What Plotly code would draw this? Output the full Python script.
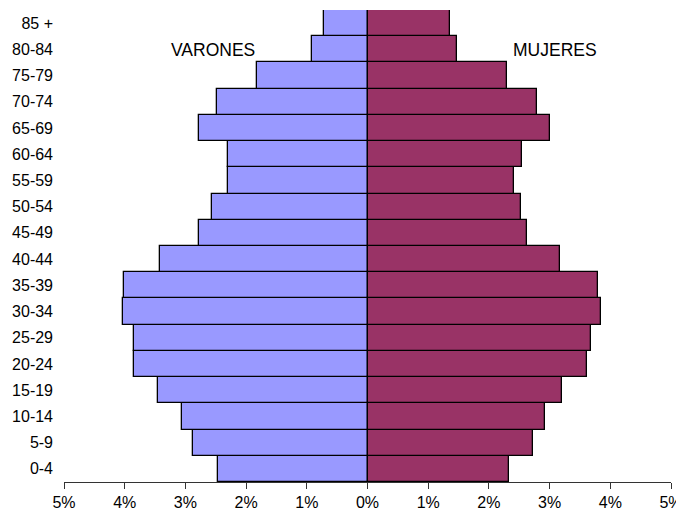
import plotly.graph_objects as go

# age groups, bottom to top
age_groups = ['0-4', '5-9', '10-14', '15-19', '20-24', '25-29', '30-34', '35-39',
              '40-44', '45-49', '50-54', '55-59', '60-64', '65-69', '70-74',
              '75-79', '80-84', '85 +']

# percentage of total population
varones = [2.46, 2.88, 3.06, 3.45, 3.85, 3.84, 4.03, 4.01,
           3.42, 2.78, 2.57, 2.30, 2.30, 2.77, 2.48, 1.82, 0.92, 0.71]
mujeres = [2.33, 2.72, 2.93, 3.20, 3.62, 3.69, 3.85, 3.79,
           3.17, 2.63, 2.53, 2.42, 2.54, 3.00, 2.79, 2.30, 1.48, 1.36]

tick_vals = [-5, -4, -3, -2, -1, 0, 1, 2, 3, 4, 5]
tick_text = ['5%', '4%', '3%', '2%', '1%', '0%', '1%', '2%', '3%', '4%', '5%']

fig = go.Figure()

fig.add_trace(go.Bar(
    y=age_groups,
    x=[-v for v in varones],
    orientation='h',
    name='VARONES',
    marker=dict(color='#9999FF', line=dict(color='black', width=1.3)),
))

fig.add_trace(go.Bar(
    y=age_groups,
    x=mujeres,
    orientation='h',
    name='MUJERES',
    marker=dict(color='#993366', line=dict(color='black', width=1.3)),
))

fig.add_annotation(text='VARONES', x=-2.54, y=0.9407, xref='x', yref='paper',
                   showarrow=False, font=dict(size=17.5, color='black'))
fig.add_annotation(text='MUJERES', x=3.09, y=0.9407, xref='x', yref='paper',
                   showarrow=False, font=dict(size=17.5, color='black'))

# page body has an 8px margin, so the figure is offset to land where the reference is
fig.update_layout(
    width=676,
    height=503,
    margin=dict(l=56, r=13, t=2, b=29),
    barmode='relative',
    bargap=0,
    showlegend=False,
    plot_bgcolor='white',
    paper_bgcolor='white',
    font=dict(family='Arial, Liberation Sans, sans-serif', size=16, color='black'),
)

fig.update_xaxes(
    range=[-5, 5],
    tickvals=tick_vals,
    ticktext=tick_text,
    showgrid=False,
    zeroline=False,
    showline=True,
    linecolor='#333333',
    linewidth=1,
    ticks='outside',
    ticklen=6,
    tickcolor='#333333',
    ticklabeloverflow='allow',
    automargin=False,
)

fig.update_yaxes(
    showgrid=False,
    zeroline=False,
    showline=False,
    ticks='',
    ticklabelstandoff=10,
    automargin=False,
)

fig.write_html("out.html")
